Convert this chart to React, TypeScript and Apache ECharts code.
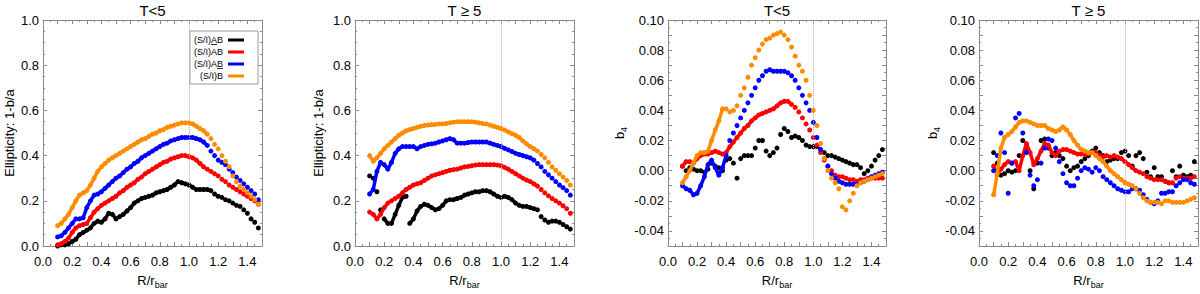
import React, { useEffect, useRef } from "react";
import * as echarts from "echarts";

// radius grid (R / r_bar) at which values were read
const R = [
  0.1, 0.125, 0.15, 0.175, 0.2, 0.225, 0.25, 0.275, 0.3, 0.325, 0.35, 0.375, 0.4, 0.425,
  0.45, 0.475, 0.5, 0.525, 0.55, 0.575, 0.6, 0.625, 0.65, 0.675, 0.7, 0.725, 0.75, 0.775,
  0.8, 0.825, 0.85, 0.875, 0.9, 0.925, 0.95, 0.975, 1.0, 1.025, 1.05, 1.075, 1.1, 1.125,
  1.15, 1.175, 1.2, 1.225, 1.25, 1.275, 1.3, 1.325, 1.35, 1.375, 1.4, 1.425, 1.45, 1.475,
];

// Panel 1: ellipticity, T<5
const p1Black = [0.0, 0.005, 0.005, 0.01, 0.02, 0.03, 0.05, 0.06, 0.07, 0.08, 0.1, 0.11, 0.105, 0.12, 0.145, 0.14, 0.12, 0.13, 0.14, 0.155, 0.17, 0.19, 0.2, 0.21, 0.215, 0.22, 0.225, 0.235, 0.24, 0.245, 0.25, 0.26, 0.27, 0.285, 0.28, 0.275, 0.27, 0.26, 0.25, 0.25, 0.25, 0.25, 0.245, 0.23, 0.22, 0.215, 0.205, 0.2, 0.19, 0.18, 0.175, 0.16, 0.145, 0.12, 0.105, 0.08];
const p1Red = [0.005, 0.01, 0.02, 0.035, 0.06, 0.08, 0.09, 0.095, 0.1, 0.125, 0.15, 0.165, 0.18, 0.19, 0.2, 0.21, 0.22, 0.235, 0.245, 0.26, 0.27, 0.28, 0.295, 0.305, 0.32, 0.33, 0.34, 0.35, 0.36, 0.37, 0.375, 0.385, 0.39, 0.395, 0.4, 0.4, 0.395, 0.39, 0.38, 0.365, 0.35, 0.34, 0.33, 0.32, 0.31, 0.295, 0.285, 0.27, 0.26, 0.25, 0.24, 0.23, 0.22, 0.21, 0.2, 0.185];
const p1Blue = [0.04, 0.045, 0.06, 0.08, 0.1, 0.12, 0.12, 0.125, 0.17, 0.2, 0.225, 0.23, 0.24, 0.255, 0.27, 0.285, 0.3, 0.31, 0.325, 0.34, 0.35, 0.365, 0.375, 0.39, 0.4, 0.41, 0.42, 0.43, 0.44, 0.45, 0.455, 0.465, 0.47, 0.475, 0.48, 0.48, 0.48, 0.48, 0.475, 0.47, 0.46, 0.445, 0.42, 0.4, 0.38, 0.37, 0.36, 0.34, 0.325, 0.305, 0.29, 0.275, 0.26, 0.245, 0.23, 0.205];
const p1Orange = [0.09, 0.1, 0.12, 0.14, 0.17, 0.2, 0.225, 0.235, 0.245, 0.27, 0.3, 0.33, 0.35, 0.365, 0.38, 0.39, 0.4, 0.41, 0.42, 0.43, 0.44, 0.45, 0.46, 0.47, 0.475, 0.485, 0.495, 0.5, 0.51, 0.515, 0.525, 0.53, 0.535, 0.54, 0.545, 0.545, 0.545, 0.54, 0.53, 0.52, 0.51, 0.495, 0.475, 0.45, 0.43, 0.4, 0.375, 0.35, 0.31, 0.285, 0.265, 0.25, 0.235, 0.22, 0.205, 0.185];

// Panel 2: ellipticity, T>=5
const p2Black = [0.31, 0.3, 0.24, 0.16, 0.12, 0.1, 0.1, 0.14, 0.18, 0.215, 0.22, 0.1, 0.12, 0.155, 0.175, 0.185, 0.18, 0.17, 0.16, 0.165, 0.18, 0.2, 0.205, 0.205, 0.21, 0.215, 0.225, 0.23, 0.235, 0.24, 0.24, 0.245, 0.245, 0.24, 0.23, 0.22, 0.215, 0.22, 0.215, 0.205, 0.19, 0.18, 0.175, 0.175, 0.17, 0.165, 0.16, 0.13, 0.115, 0.105, 0.11, 0.11, 0.105, 0.095, 0.085, 0.075];
const p2Red = [0.15, 0.14, 0.12, 0.14, 0.17, 0.19, 0.2, 0.21, 0.22, 0.235, 0.25, 0.26, 0.27, 0.275, 0.28, 0.29, 0.3, 0.31, 0.315, 0.32, 0.325, 0.33, 0.335, 0.338, 0.34, 0.345, 0.35, 0.352, 0.355, 0.358, 0.36, 0.36, 0.36, 0.36, 0.36, 0.358, 0.355, 0.348, 0.34, 0.33, 0.32, 0.31, 0.3, 0.292, 0.285, 0.275, 0.265, 0.25, 0.235, 0.222, 0.21, 0.2, 0.19, 0.178, 0.165, 0.145];
const p2Blue = [0.23, 0.25, 0.33, 0.37, 0.36, 0.34, 0.37, 0.41, 0.43, 0.44, 0.44, 0.44, 0.44, 0.43, 0.44, 0.445, 0.45, 0.452, 0.455, 0.46, 0.465, 0.47, 0.475, 0.47, 0.455, 0.455, 0.455, 0.458, 0.46, 0.46, 0.46, 0.46, 0.46, 0.455, 0.45, 0.445, 0.44, 0.432, 0.425, 0.418, 0.41, 0.405, 0.4, 0.395, 0.39, 0.38, 0.365, 0.35, 0.33, 0.315, 0.3, 0.285, 0.27, 0.258, 0.245, 0.225];
const p2Orange = [0.4, 0.375, 0.39, 0.41, 0.43, 0.445, 0.46, 0.475, 0.49, 0.5, 0.51, 0.515, 0.52, 0.525, 0.53, 0.533, 0.535, 0.537, 0.538, 0.54, 0.54, 0.542, 0.545, 0.548, 0.55, 0.55, 0.55, 0.55, 0.55, 0.548, 0.545, 0.542, 0.54, 0.535, 0.53, 0.525, 0.52, 0.513, 0.505, 0.497, 0.49, 0.48, 0.465, 0.452, 0.44, 0.43, 0.42, 0.405, 0.39, 0.37, 0.35, 0.335, 0.32, 0.305, 0.29, 0.27];

// Panel 3: b4, T<5
const p3Black = [0.003, 0.0, 0.002, 0.001, 0.0, 0.0, -0.001, 0.001, 0.005, 0.003, 0.002, 0.0, 0.007, 0.008, 0.005, -0.005, 0.008, 0.01, 0.01, 0.01, 0.015, 0.02, 0.02, 0.013, 0.01, 0.012, 0.015, 0.024, 0.028, 0.026, 0.022, 0.023, 0.022, 0.02, 0.017, 0.016, 0.016, 0.016, 0.014, 0.012, 0.01, 0.01, 0.009, 0.008, 0.007, 0.006, 0.005, 0.004, 0.004, 0.002, -0.002, 0.0, 0.003, 0.007, 0.01, 0.014];
const p3Red = [0.003, 0.006, 0.006, 0.005, 0.008, 0.01, 0.011, 0.011, 0.012, 0.013, 0.012, 0.011, 0.012, 0.016, 0.019, 0.022, 0.025, 0.028, 0.03, 0.033, 0.035, 0.037, 0.038, 0.039, 0.04, 0.041, 0.043, 0.045, 0.046, 0.046, 0.044, 0.042, 0.039, 0.035, 0.031, 0.027, 0.022, 0.017, 0.012, 0.007, 0.003, 0.0, -0.003, -0.004, -0.004, -0.005, -0.006, -0.006, -0.007, -0.006, -0.006, -0.005, -0.005, -0.005, -0.005, -0.005];
const p3Blue = [-0.01, -0.012, -0.013, -0.016, -0.015, -0.01, -0.004, 0.004, 0.007, 0.002, -0.003, 0.002, 0.01, 0.02, 0.025, 0.03, 0.035, 0.04, 0.045, 0.05, 0.055, 0.06, 0.063, 0.066, 0.067, 0.066, 0.066, 0.066, 0.066, 0.065, 0.063, 0.06, 0.055, 0.05, 0.045, 0.04, 0.032, 0.022, 0.014, 0.008, 0.003, -0.002, -0.005, -0.007, -0.008, -0.009, -0.009, -0.009, -0.009, -0.008, -0.007, -0.006, -0.004, -0.003, -0.002, -0.001];
const p3Orange = [-0.008, -0.004, 0.0, 0.005, 0.01, 0.012, 0.012, 0.013, 0.02, 0.027, 0.033, 0.041, 0.041, 0.039, 0.04, 0.043, 0.05, 0.055, 0.062, 0.07, 0.075, 0.08, 0.084, 0.087, 0.088, 0.09, 0.091, 0.092, 0.09, 0.087, 0.082, 0.076, 0.07, 0.066, 0.06, 0.05, 0.04, 0.03, 0.018, 0.008, 0.0, -0.005, -0.008, -0.012, -0.024, -0.026, -0.02, -0.015, -0.01, -0.008, -0.007, -0.006, -0.005, -0.004, -0.003, -0.002];

// Panel 4: b4, T>=5
const p4Black = [0.012, 0.005, -0.003, -0.002, 0.0, -0.001, 0.0, 0.01, 0.02, 0.015, 0.0, -0.012, 0.005, 0.02, 0.021, 0.015, 0.01, 0.012, 0.01, 0.008, 0.003, 0.0, 0.002, 0.003, 0.006, 0.008, 0.01, 0.013, 0.015, 0.012, 0.01, 0.006, 0.007, 0.008, 0.008, 0.012, 0.013, 0.01, 0.003, 0.01, 0.012, 0.008, -0.001, -0.004, 0.002, -0.004, -0.004, -0.007, -0.008, 0.0, -0.004, 0.003, -0.003, -0.004, -0.003, 0.006];
const p4Red = [0.003, -0.002, 0.001, 0.004, 0.006, 0.005, 0.006, 0.0, 0.01, 0.018, 0.012, 0.004, 0.008, 0.013, 0.018, 0.017, 0.012, 0.01, 0.013, 0.014, 0.014, 0.013, 0.012, 0.011, 0.011, 0.011, 0.011, 0.012, 0.012, 0.01, 0.009, 0.01, 0.009, 0.01, 0.009, 0.008, 0.006, 0.004, 0.002, 0.0, -0.001, -0.002, -0.004, -0.005, -0.006, -0.006, -0.006, -0.007, -0.008, -0.008, -0.005, -0.004, -0.005, -0.005, -0.005, -0.004];
const p4Blue = [0.0, 0.01, 0.025, 0.012, -0.015, 0.005, 0.035, 0.038, 0.025, 0.012, -0.003, -0.01, -0.006, 0.005, 0.015, 0.021, 0.02, 0.015, 0.006, -0.002, -0.008, -0.01, -0.01, -0.005, 0.0, 0.002, 0.001, -0.001, 0.002, 0.0, -0.004, -0.006, -0.008, -0.01, -0.012, -0.013, -0.014, -0.014, -0.012, -0.012, -0.013, -0.016, -0.019, -0.021, -0.022, -0.02, -0.015, -0.015, -0.014, -0.014, -0.01, -0.008, -0.006, -0.006, -0.008, -0.009];
const p4Orange = [-0.016, -0.002, 0.015, 0.022, 0.024, 0.026, 0.029, 0.032, 0.033, 0.033, 0.032, 0.031, 0.03, 0.03, 0.03, 0.028, 0.027, 0.026, 0.027, 0.029, 0.027, 0.024, 0.02, 0.017, 0.014, 0.013, 0.012, 0.012, 0.01, 0.008, 0.006, 0.003, 0.0, -0.002, -0.004, -0.006, -0.008, -0.009, -0.01, -0.012, -0.015, -0.018, -0.02, -0.021, -0.021, -0.021, -0.022, -0.02, -0.02, -0.021, -0.021, -0.021, -0.021, -0.02, -0.019, -0.018];

const seriesNames = ["(S/I)AB", "(S/I)AB", "(S/I)AB", "(S/I)B"];
const underlineKind = ["A", "none", "B", "none"];
const seriesColors = ["#000000", "#ff0000", "#0000ff", "#ff8c00"];
const panelTitles = ["T<5", "T \u2265 5", "T<5", "T \u2265 5"];
const panelData = [
  [p1Black, p1Red, p1Blue, p1Orange],
  [p2Black, p2Red, p2Blue, p2Orange],
  [p3Black, p3Red, p3Blue, p3Orange],
  [p4Black, p4Red, p4Blue, p4Orange],
];
// R ranges over which the markers are so dense that they read as a solid band (style only)
const denseRanges: number[][][][] = [
  [[[0.1, 1.15]], [[0.1, 1.1]], [[0.1, 1.125]], [[0.1, 1.125]]],
  [[[0.2, 0.35], [0.375, 1.25]], [[0.1, 1.25]], [[0.1, 1.225]], [[0.1, 1.25]]],
  [[], [[0.1, 0.85]], [[0.1, 0.4]], [[0.1, 0.375]]],
  [[], [[0.1, 1.1]], [], [[0.1, 1.05]]],
];

const FONT = "Liberation Sans, Arial, Helvetica, sans-serif";
const AXIS_GRAY = "#8a8a8a";
const GRID_LEFT = [43, 355, 668, 979];
const GRID_WIDTH = [219, 219, 218, 219];
const GRID_TOP = 20;
const GRID_HEIGHT = 240;
const Y_NAME_GAP = [27, 30, 40, 38];

function measure(text: string, size: number): number {
  const c = document.createElement("canvas").getContext("2d");
  if (!c) return text.length * size * 0.55;
  c.font = `${size}px ${FONT}`;
  return c.measureText(text).width;
}

export default function App() {
  const ref = useRef<HTMLDivElement>(null);

  useEffect(() => {
    if (!ref.current) return;
    const chart = echarts.init(ref.current, null, { renderer: "svg" });

    const grid: any[] = [];
    const xAxis: any[] = [];
    const yAxis: any[] = [];
    const series: any[] = [];
    const graphic: any[] = [];

    for (let p = 0; p < 4; p++) {
      const isB4 = p >= 2;
      grid.push({ left: GRID_LEFT[p], top: GRID_TOP, width: GRID_WIDTH[p], height: GRID_HEIGHT, containLabel: false });
      const baseX = {
        type: "value",
        gridIndex: p,
        min: 0,
        max: 1.5,
        interval: 0.1,
        axisLine: { show: true, onZero: false, lineStyle: { color: AXIS_GRAY, width: 1 } },
        axisTick: { show: true, inside: true, length: 4, lineStyle: { color: AXIS_GRAY } },
        minorTick: { show: true, splitNumber: 2, length: 2, lineStyle: { color: AXIS_GRAY } },
        splitLine: { show: false },
      };
      xAxis.push({
        ...baseX,
        position: "bottom",
        name: "{a|R/r}{b|bar}",
        nameLocation: "middle",
        nameGap: 26,
        nameTextStyle: {
          rich: {
            a: { fontSize: 13, fontFamily: FONT, color: "#000" },
            b: { fontSize: 9, fontFamily: FONT, color: "#000", padding: [8, 0, 0, 0] },
          },
        },
        axisLabel: {
          show: true,
          margin: 9,
          fontSize: 13,
          fontFamily: FONT,
          color: "#000",
          showMaxLabel: false,
          formatter: (v: number) => {
            const k = Math.round(v * 10);
            return k % 2 === 0 && k < 15 ? v.toFixed(1) : "";
          },
        },
      });
      xAxis.push({ ...baseX, position: "top", axisLabel: { show: false } });

      const baseY = isB4
        ? { min: -0.05, max: 0.1, interval: 0.01, minorSplit: 2 }
        : { min: 0, max: 1, interval: 0.2, minorSplit: 4 };
      const yCommon = {
        type: "value",
        gridIndex: p,
        min: baseY.min,
        max: baseY.max,
        interval: baseY.interval,
        axisLine: { show: true, onZero: false, lineStyle: { color: AXIS_GRAY, width: 1 } },
        axisTick: { show: true, inside: true, length: 4, lineStyle: { color: AXIS_GRAY } },
        minorTick: { show: true, splitNumber: baseY.minorSplit, length: 2, lineStyle: { color: AXIS_GRAY } },
        splitLine: { show: false },
      };
      yAxis.push({
        ...yCommon,
        position: "left",
        name: isB4 ? "{a|b}{s|4}" : "Ellipticity: 1-b/a",
        nameLocation: "middle",
        nameGap: Y_NAME_GAP[p],
        nameTextStyle: isB4
          ? {
              rich: {
                a: { fontSize: 13, fontFamily: FONT, color: "#000" },
                s: { fontSize: 9, fontFamily: FONT, color: "#000", padding: [8, 0, 0, 0] },
              },
            }
          : { fontSize: 13, fontFamily: FONT, color: "#000" },
        axisLabel: {
          show: true,
          margin: 4,
          fontSize: 13,
          fontFamily: FONT,
          color: "#000",
          formatter: isB4
            ? (v: number) => {
                const k = Math.round(v * 100);
                return k % 2 === 0 ? v.toFixed(2) : "";
              }
            : (v: number) => v.toFixed(1),
        },
      });
      yAxis.push({ ...yCommon, position: "right", axisLabel: { show: false } });

      panelData[p].forEach((vals, s) => {
        const pts = R.map((r, k) => [r, vals[k]]);
        denseRanges[p][s].forEach((rng) => {
          series.push({
            type: "line",
            xAxisIndex: 2 * p,
            yAxisIndex: 2 * p,
            showSymbol: false,
            symbol: "none",
            silent: true,
            z: 2 + s,
            lineStyle: { color: seriesColors[s], width: 3.5, cap: "round", join: "round" },
            data: pts.filter((d) => d[0] >= rng[0] - 1e-9 && d[0] <= rng[1] + 1e-9),
          });
        });
        const item: any = {
          type: "scatter",
          name: seriesNames[s],
          xAxisIndex: 2 * p,
          yAxisIndex: 2 * p,
          symbol: "circle",
          symbolSize: 5,
          z: 2 + s,
          itemStyle: { color: seriesColors[s], opacity: 1 },
          data: pts,
          silent: true,
        };
        if (s === 0) {
          item.markLine = {
            silent: true,
            symbol: "none",
            label: { show: false },
            lineStyle: { color: "#b0b0b0", type: "dotted", width: 1 },
            data: [{ xAxis: 1.0 }],
          };
        }
        series.push(item);
      });

      graphic.push({
        type: "text",
        x: GRID_LEFT[p] + GRID_WIDTH[p] / 2,
        y: 10,
        style: {
          text: panelTitles[p],
          fontSize: 15,
          fontWeight: "normal",
          fontFamily: FONT,
          fill: "#000",
          textAlign: "center",
          textVerticalAlign: "middle",
          align: "center",
          verticalAlign: "middle",
        },
      });
    }

    // Legend box in panel 1
    const legendX = 190;
    const legendY = 31;
    const textRight = 223;
    const wB = measure("B", 9);
    const wAB = measure("AB", 9);
    graphic.push({
      type: "rect",
      shape: { x: legendX, y: legendY, width: 68, height: 53 },
      style: { fill: "#fff", stroke: "#999", lineWidth: 1 },
      z: 10,
    });
    seriesNames.forEach((nm, i) => {
      const yy = legendY + 9 + i * 12;
      graphic.push({
        type: "text",
        x: textRight,
        y: yy,
        z: 11,
        style: {
          text: nm,
          fontSize: 9,
          fontFamily: FONT,
          fill: "#000",
          textAlign: "right",
          textVerticalAlign: "middle",
          align: "right",
          verticalAlign: "middle",
        },
      });
      if (underlineKind[i] !== "none") {
        const x1 = underlineKind[i] === "A" ? textRight - wAB : textRight - wB;
        const x2 = underlineKind[i] === "A" ? textRight - wB : textRight;
        graphic.push({
          type: "line",
          z: 11,
          shape: { x1: x1, y1: yy + 4.5, x2: x2, y2: yy + 4.5 },
          style: { stroke: "#000", lineWidth: 0.8 },
        });
      }
      graphic.push({
        type: "line",
        z: 11,
        shape: { x1: 228, y1: yy, x2: 244, y2: yy },
        style: { stroke: seriesColors[i], lineWidth: 3 },
      });
    });

    chart.setOption({
      animation: false,
      backgroundColor: "#ffffff",
      grid,
      xAxis,
      yAxis,
      series,
      graphic,
    });

    return () => chart.dispose();
  }, []);

  return (
    <div
      ref={ref}
      style={{ position: "fixed", left: 0, top: 0, width: 1200, height: 294 }}
    />
  );
}
